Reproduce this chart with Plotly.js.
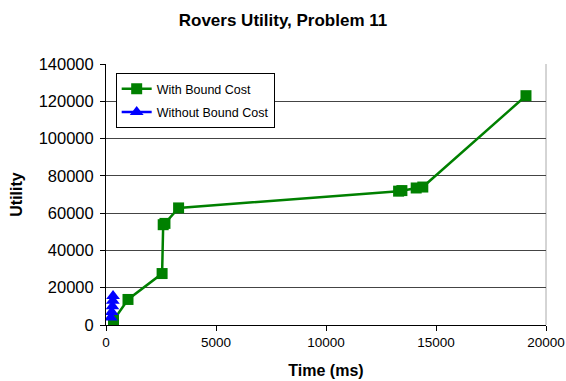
<!DOCTYPE html>
<html>
<head>
<meta charset="utf-8">
<script src="https://cdn.plot.ly/plotly-3.0.1.min.js"></script>
<style>html,body{margin:0;padding:0;background:#fff;}#chart{width:566px;height:381px;}</style>
</head>
<body>
<div id="chart"></div>
<script>
// Data
const withBoundTime = [340, 1000, 2550, 2600, 2680, 3300, 13300, 13450, 14100, 14400, 19090];
const withBoundUtility = [2500, 13700, 27600, 53800, 54500, 62800, 71800, 72100, 73500, 74000, 123000];
const withoutBoundTime = [220, 260, 290, 310, 320];
const withoutBoundUtility = [4000, 7000, 10000, 13000, 15500];
const yTicks = [0, 20000, 40000, 60000, 80000, 100000, 120000, 140000];
const xTicks = [0, 5000, 10000, 15000, 20000];

const font = 'Liberation Sans, Arial, Helvetica, sans-serif';

const traces = [
  {
    x: withBoundTime, y: withBoundUtility, name: 'With Bound Cost',
    type: 'scatter', mode: 'lines+markers', legendgroup: 'a',
    line: {color: '#008000', width: 2.5},
    marker: {symbol: 'square', size: 11, color: '#008000'}
  },
  {
    x: withoutBoundTime, y: withoutBoundUtility, name: 'Without Bound Cost',
    type: 'scatter', mode: 'lines+markers', legendgroup: 'b',
    line: {color: '#0000ff', width: 2.5},
    marker: {symbol: 'triangle-up', size: 12, color: '#0000ff'}
  }
];

const layout = {
  width: 566, height: 381,
  margin: {l: 105.5, r: 20, t: 64, b: 55.5},
  paper_bgcolor: '#fff', plot_bgcolor: '#fff',
  font: {family: font, color: '#000'},
  showlegend: true,
  title: {text: '<b>Rovers Utility, Problem 11</b>', font: {size: 17, family: font, color: '#000'}, x: 0.5, xanchor: 'center', y: 0.947, yanchor: 'middle'},
  xaxis: {
    range: [0, 20000], tickvals: xTicks, ticktext: xTicks.map(String),
    showgrid: false, zeroline: false, showline: true, linecolor: '#000', linewidth: 1,
    ticks: 'outside', ticklen: 5, tickcolor: '#000',
    tickfont: {size: 13.5, family: font, color: '#000'},
    title: {text: '<b>Time (ms)</b>', font: {size: 16, family: font, color: '#000'}, standoff: 15}
  },
  yaxis: {
    range: [0, 140000], tickvals: yTicks, ticktext: yTicks.map(String),
    showgrid: true, gridcolor: '#444', gridwidth: 1, zeroline: false,
    showline: true, linecolor: '#000', linewidth: 1,
    ticks: 'outside', ticklen: 5, tickcolor: '#000', ticklabelstandoff: 3,
    tickfont: {size: 16.5, family: font, color: '#000'},
    title: {text: '<b>Utility</b>', font: {size: 16, family: font, color: '#000'}, standoff: 12}
  },
  legend: {
    x: 0.022, y: 0.965, xanchor: 'left', yanchor: 'top',
    bgcolor: '#fff', bordercolor: '#000', borderwidth: 1,
    font: {size: 12.5, family: font, color: '#000'},
    tracegroupgap: 4, itemwidth: 30
  },
  shapes: [
    {type: 'line', xref: 'paper', yref: 'paper', x0: 1, x1: 1, y0: 0, y1: 1, line: {color: '#aaa', width: 1}, layer: 'below'}
  ]
};

Plotly.newPlot('chart', traces, layout, {displayModeBar: false, staticPlot: true});
</script>
</body>
</html>
